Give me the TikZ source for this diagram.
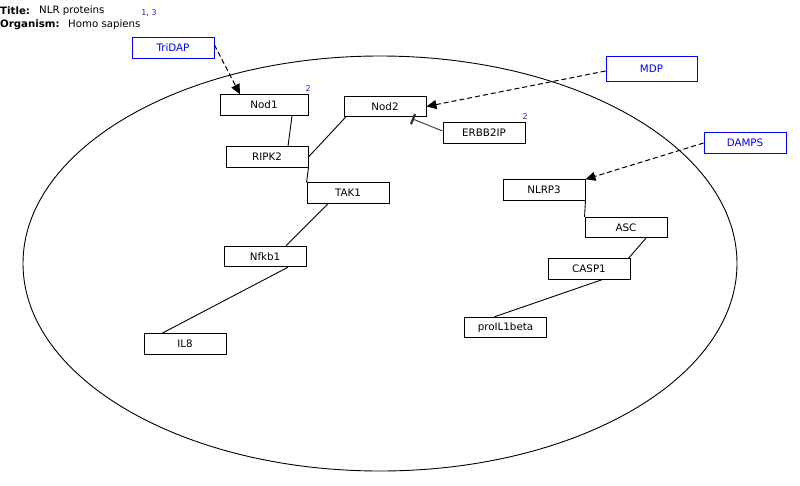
\documentclass[tikz,border=0pt]{standalone}
\usepackage{fontspec}
\setmainfont{DejaVu Sans}
\usetikzlibrary{arrows.meta,calc}
\definecolor{refblue}{RGB}{0,0,255}
\definecolor{noteblue}{RGB}{40,40,170}
\tikzset{
  gene/.style={draw=black, line width=0.9pt, minimum width=82pt, minimum height=20.5pt, inner sep=0pt, font=\fontsize{10.3}{12}\selectfont},
  metab/.style={gene, draw=refblue, text=refblue},
  link/.style={line width=0.9pt},
  stim/.style={line width=1pt, dash pattern=on 5pt off 3pt, -{Triangle[width=9pt,length=10pt]}},
  inhib/.style={line width=0.9pt, -{Bar[width=11pt,line width=2.2pt,sep=0pt]}, color=black!80},
  note/.style={text=noteblue, font=\fontsize{8}{9}\selectfont, inner sep=0pt},
  hdr/.style={font=\fontsize{10.2}{12}\selectfont, inner sep=0pt, anchor=west}
}
\begin{document}
\begin{tikzpicture}[x=1pt,y=-1pt]
\useasboundingbox (0,0) rectangle (800,485);
% header
\node[hdr] (t1) at (0,10.5) {\textbf{Title:}};
\node[hdr] (t2) at (39,10.5) {NLR proteins};
\node[hdr] (o1) at (0,24.5) {\textbf{Organism:}};
\node[hdr] (o2) at (68,24.5) {Homo sapiens};
\node[note] (n13) at (149,13) {1, 3};
% cell
\draw[line width=0.9pt] (380,263.5) ellipse [x radius=357, y radius=207.5];
% nodes
\node[metab] (TriDAP) at (173,48) {TriDAP};
\node[metab, minimum width=91pt, minimum height=25pt] (MDP) at (651.5,68.5) {MDP};
\node[metab] (DAMPS) at (745,143) {DAMPS};
\node[gene, minimum width=88pt] (Nod1) at (264,105) {Nod1};
\node[gene] (Nod2) at (385,106.5) {Nod2};
\node[gene] (ERBB2IP) at (484,133) {ERBB2IP};
\node[gene] (RIPK2) at (267,157) {RIPK2};
\node[gene] (TAK1) at (348,193) {TAK1};
\node[gene] (NLRP3) at (544,190) {NLRP3};
\node[gene] (ASC) at (626,227.5) {ASC};
\node[gene] (CASP1) at (589,269) {CASP1};
\node[gene] (Nfkb1) at (265,256.5) {Nfkb1};
\node[gene] (proIL) at (505.5,327.5) {proIL1beta};
\node[gene] (IL8) at (185,344) {IL8};
\node[note, anchor=south west] (n1) at ([xshift=-3pt,yshift=3pt]Nod1.north east) {2};
\node[note, anchor=south west] (n2) at ([xshift=-3pt,yshift=3pt]ERBB2IP.north east) {2};
% stimulations
\draw[stim] ([yshift=3pt]TriDAP.east) -- ([xshift=-24pt]Nod1.north);
\draw[stim] ([yshift=-2.5pt]MDP.west) -- (Nod2.east);
\draw[stim] (DAMPS.west) -- (NLRP3.north east);
% links
\draw[link] ([xshift=28pt]Nod1.south) -- ([xshift=21pt]RIPK2.north);
\draw[link] ([xshift=2pt]Nod2.south west) -- (RIPK2.east);
\draw[link] (RIPK2.south east) -- (TAK1.north west);
\draw[link] ([xshift=-20pt]TAK1.south) -- ([xshift=21pt]Nfkb1.north);
\draw[link] ([xshift=23pt]Nfkb1.south) -- ([xshift=-23pt]IL8.north);
\draw[link] (NLRP3.south east) -- (ASC.north west);
\draw[link] ([xshift=20pt]ASC.south) -- ([xshift=-2pt]CASP1.north east);
\draw[link] ([xshift=13pt]CASP1.south) -- ([xshift=-11pt]proIL.north);
% inhibition
\draw[inhib] ([yshift=2pt]ERBB2IP.west) -- ([xshift=27pt,yshift=-1.5pt]Nod2.south);
\end{tikzpicture}
\end{document}
